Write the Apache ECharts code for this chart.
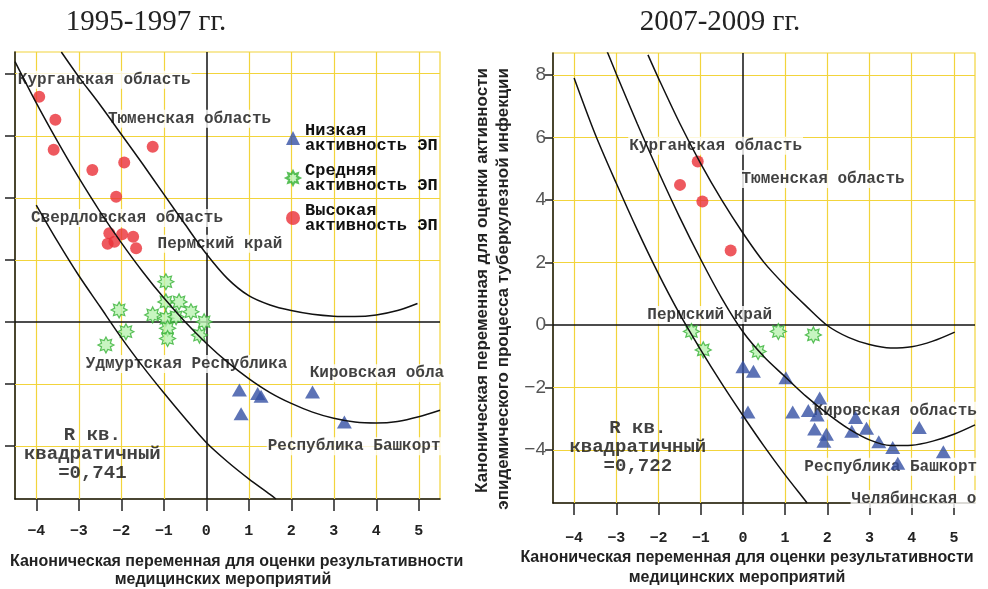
<!DOCTYPE html>
<html><head><meta charset="utf-8">
<script src="https://cdn.jsdelivr.net/npm/echarts@6/dist/echarts.min.js"></script>
<style>html,body{margin:0;padding:0;background:#fff}#c{width:988px;height:589px}</style>
</head><body><div id="c"></div>
<script>
// ---------- data ----------
const xTicks = [-4, -3, -2, -1, 0, 1, 2, 3, 4, 5];
const yTicks = [-4, -2, 0, 2, 4, 6, 8];
const seriesNames = ['Низкая\nактивность ЭП', 'Средняя\nактивность ЭП', 'Высокая\nактивность ЭП'];
const panelTitles = ['1995-1997 гг.', '2007-2009 гг.'];
const xTitle1 = 'Каноническая переменная для оценки результативности';
const xTitle2 = 'медицинских мероприятий';
const yTitle1 = 'Каноническая переменная для оценки активности';
const yTitle2 = 'эпидемического процесса туберкулезной инфекции';
const rsqLeft = 'R кв.\nквадратичный\n=0,741';
const rsqRight = 'R кв.\nквадратичный\n=0,722';

// 1995-1997
const lowLeft = [[0.78,-2.19],[1.21,-2.30],[1.29,-2.39],[2.50,-2.25],[0.82,-2.95],[3.25,-3.22]];
const midLeft = [[-0.95,1.30],[-2.05,0.39],[-1.26,0.23],[-0.95,0.65],[-0.64,0.65],[-0.36,0.33],[-0.95,0.12],[-0.71,0.17],[-0.05,0.01],[-1.89,-0.31],[-0.91,-0.20],[-0.91,-0.53],[-0.16,-0.42],[-2.36,-0.74]];
const highLeft = [[-3.93,7.26],[-3.55,6.52],[-3.59,5.55],[-2.68,4.90],[-1.93,5.14],[-1.26,5.65],[-2.12,4.04],[-2.28,2.86],[-1.98,2.83],[-1.72,2.75],[-2.32,2.52],[-2.16,2.59],[-1.65,2.38]];
const curveUpLeft = [[-3.41,8.7],[-3,7.9],[-2.5,7.0],[-2,6.05],[-1.5,5.1],[-1,4.12],[-0.5,3.15],[0,2.2],[0.5,1.4],[1,0.85],[1.5,0.55],[2,0.37],[2.5,0.25],[3,0.19],[3.5,0.18],[4,0.23],[4.5,0.37],[4.97,0.6]];
const curveMidLeft = [[-4.5,8.39],[-4,7.06],[-3.5,5.82],[-3,4.65],[-2.5,3.56],[-2,2.56],[-1.5,1.63],[-1,0.78],[-0.5,0.01],[0,-0.68],[0.5,-1.29],[1,-1.82],[1.5,-2.27],[2,-2.62],[2.5,-2.9],[3,-3.1],[3.5,-3.22],[4,-3.25],[4.5,-3.2],[5,-3.05],[5.5,-2.84]];
const curveLowLeft = [[-4,3.77],[-3.5,2.6],[-3,1.5],[-2.5,0.5],[-2,-0.5],[-1.5,-1.42],[-1,-2.28],[-0.5,-3.1],[0,-3.88],[0.5,-4.5],[1,-5.05],[1.5,-5.55],[1.64,-5.7]];
const regionsLeft = ['Курганская область','Тюменская область','Свердловская область','Пермский край','Удмуртская Республика','Кировская обла','Республика Башкорт'];
const regionPosLeft = [[-4.47,7.81],[-2.35,6.55],[-4.16,3.35],[-1.18,2.52],[-2.87,-1.35],[2.40,-1.65],[1.41,-4.0]];

// 2007-2009
const lowRight = [[0.0,-1.34],[0.25,-1.48],[1.02,-1.69],[0.12,-2.79],[1.18,-2.79],[1.55,-2.74],[1.82,-2.34],[1.76,-2.88],[1.70,-3.33],[1.98,-3.50],[1.92,-3.72],[2.67,-2.96],[2.58,-3.40],[2.93,-3.31],[3.22,-3.74],[3.55,-3.92],[3.67,-4.43],[4.18,-3.28],[4.75,-4.06]];
const midRight = [[-1.22,-0.21],[-0.94,-0.80],[0.36,-0.85],[0.84,-0.21],[1.67,-0.32]];
const highRight = [[-1.07,5.23],[-1.49,4.48],[-0.96,3.95],[-0.29,2.38]];
const curveUpRight = [[-2.25,8.64],[-2,7.89],[-1.5,6.46],[-1,5.16],[-0.5,3.99],[0,2.94],[0.5,2.0],[1,1.26],[1.5,0.6],[2,-0.02],[2.5,-0.4],[3,-0.63],[3.5,-0.74],[4,-0.7],[4.5,-0.52],[5.02,-0.23]];
const curveMidRight = [[-3.22,8.76],[-3,8.03],[-2.5,6.43],[-2,4.9],[-1.5,3.45],[-1,2.1],[-0.5,0.85],[0,-0.22],[0.5,-1.02],[1,-1.66],[1.5,-2.29],[2,-2.84],[2.5,-3.32],[3,-3.68],[3.5,-3.86],[4,-3.85],[4.5,-3.72],[5,-3.5],[5.5,-3.2]];
const curveLowRight = [[-4,7.9],[-3.5,6.1],[-3,4.53],[-2.5,3.03],[-2,1.63],[-1.5,0.35],[-1,-0.8],[-0.5,-1.88],[0,-2.9],[0.5,-3.88],[1,-4.8],[1.5,-5.66],[1.52,-5.7]];
const regionsRight = ['Курганская область','Тюменская область','Пермский край','Кировская область','Республика Башкорт','Челябинская о'];
const regionPosRight = [[-2.73,5.73],[-0.07,4.67],[-2.30,0.32],[1.64,-2.75],[1.42,-4.54],[2.54,-5.57]];
const rsqPos = [[-2.68,-4.26],[-2.49,-3.9]];

// ---------- styles ----------
const YEL = '#f2d43c';
const monoB = 'Liberation Mono';
function starPath(n, r1, r2) {
  let s = '';
  for (let i = 0; i < 2 * n; i++) {
    const r = i % 2 ? r2 : r1;
    const a = Math.PI * i / n - Math.PI / 2;
    s += (i ? 'L' : 'M') + (r * Math.cos(a)).toFixed(3) + ' ' + (r * Math.sin(a)).toFixed(3);
  }
  return 'path://' + s + 'Z';
}
const STAR = starPath(8, 10, 6);
const grids = [
  { left: 15, top: 52, width: 425, height: 447 },
  { left: 553, top: 53, width: 422, height: 450 }
];
const panels = [
  { low: lowLeft, mid: midLeft, high: highLeft, curves: [curveUpLeft, curveMidLeft, curveLowLeft], regions: regionsLeft, pos: regionPosLeft, rsq: rsqLeft, labelMargin: 25 },
  { low: lowRight, mid: midRight, high: highRight, curves: [curveUpRight, curveMidRight, curveLowRight], regions: regionsRight, pos: regionPosRight, rsq: rsqRight, labelMargin: 28 }
];

const xAxis = [], yAxis = [], series = [];
panels.forEach((p, i) => {
  xAxis.push({
    type: 'value', gridIndex: i, min: -4.5, max: 5.5,
    axisLine: { onZero: false, lineStyle: { color: '#111', width: 1.5 } },
    axisTick: { show: true, customValues: xTicks, length: 12, lineStyle: { color: '#222', width: 1.5 } },
    axisLabel: { customValues: xTicks, formatter: v => String(v).replace('-', '−'), fontFamily: monoB, fontWeight: 'bold', fontSize: 15, color: '#222', margin: p.labelMargin },
    splitLine: { show: false }
  });
  yAxis.push({
    type: 'value', gridIndex: i, min: -5.7, max: 8.7,
    axisLine: { onZero: false, lineStyle: { color: '#111', width: 1.5 } },
    axisTick: { show: true, customValues: yTicks, length: i ? 8 : 10, lineStyle: { color: '#222', width: 1.5 } },
    axisLabel: { show: i === 1, customValues: yTicks, formatter: v => String(v).replace('-', '−'), fontFamily: 'Liberation Sans', fontSize: 19, color: '#555', margin: 7 },
    splitLine: { show: false }
  });
  series.push({
    type: 'line', xAxisIndex: i, yAxisIndex: i, data: [], silent: true, z: 1,
    markLine: {
      silent: true, z: 1, symbol: ['none', 'none'], label: { show: false }, animation: false,
      lineStyle: { color: YEL, type: 'solid', width: 1.2 },
      data: xTicks.filter(v => v !== 0).map(v => ({ xAxis: v })).concat(yTicks.filter(v => v !== 0).map(v => ({ yAxis: v })))
    }
  });
  series.push({
    type: 'line', xAxisIndex: i, yAxisIndex: i, data: [], silent: true, z: 1,
    markLine: {
      silent: true, z: 1.5, symbol: ['none', 'none'], label: { show: false }, animation: false,
      lineStyle: { color: '#111', type: 'solid', width: 1.5 },
      data: [{ xAxis: 0 }, { yAxis: 0 }]
    }
  });
  series.push({
    type: 'scatter', xAxisIndex: i, yAxisIndex: i, silent: true, z: 3, symbolSize: 1,
    itemStyle: { color: 'rgba(0,0,0,0)' },
    data: p.regions.map((t, k) => ({ name: t, value: p.pos[k] })),
    label: { show: true, position: 'right', distance: 0, formatter: '{b}', fontFamily: monoB, fontWeight: 'bold', fontSize: 16, color: '#111', backgroundColor: '#fff', padding: [1, 1] }
  });
  series.push({
    type: 'scatter', xAxisIndex: i, yAxisIndex: i, silent: true, z: 3, symbolSize: 1,
    itemStyle: { color: 'rgba(0,0,0,0)' },
    data: [{ name: p.rsq, value: rsqPos[i] }],
    label: { show: true, position: 'inside', formatter: '{b}', align: 'center', verticalAlign: 'middle', fontFamily: monoB, fontWeight: 'bold', fontSize: 19, lineHeight: 19, color: '#111' }
  });
  p.curves.forEach(c => series.push({
    type: 'line', xAxisIndex: i, yAxisIndex: i, data: c, smooth: 0.3, showSymbol: false, silent: true, z: 5,
    lineStyle: { color: '#111', width: 1.5 }
  }));
  series.push({ name: seriesNames[0], type: 'scatter', xAxisIndex: i, yAxisIndex: i, data: p.low, z: 4,
    symbol: 'triangle', symbolSize: [15, 13], itemStyle: { color: '#3450a4' } });
  series.push({ name: seriesNames[1], type: 'scatter', xAxisIndex: i, yAxisIndex: i, data: p.mid, z: 4,
    symbol: STAR, symbolSize: 16, itemStyle: { color: '#b9f3b0', borderColor: '#35b035', borderWidth: 1.2 } });
  series.push({ name: seriesNames[2], type: 'scatter', xAxisIndex: i, yAxisIndex: i, data: p.high, z: 4,
    symbol: 'circle', symbolSize: 12, itemStyle: { color: '#ea2f37' } });
});

const txt = (x, y, text, font, align, extra) => Object.assign({
  type: 'text', x: x, y: y, silent: true,
  style: { text: text, font: font, fill: '#222', align: align, verticalAlign: 'middle', textAlign: align, textVerticalAlign: 'middle' }
}, extra || {});

const graphic = [
  txt(146, 22, panelTitles[0], '29px "Liberation Serif"', 'center'),
  txt(720, 22, panelTitles[1], '29px "Liberation Serif"', 'center'),
  txt(10, 562, xTitle1, 'bold 16px "Liberation Sans"', 'left'),
  txt(223, 580, xTitle2, 'bold 16px "Liberation Sans"', 'center'),
  txt(747, 558, xTitle1, 'bold 16px "Liberation Sans"', 'center'),
  txt(737, 578, xTitle2, 'bold 16px "Liberation Sans"', 'center'),
  txt(482, 68, yTitle1, 'bold 17px "Liberation Sans"', 'right', { rotation: Math.PI / 2 }),
  txt(503, 68, yTitle2, 'bold 17px "Liberation Sans"', 'right', { rotation: Math.PI / 2 })
];

const chart = echarts.init(document.getElementById('c'), null, { renderer: 'canvas' });
chart.setOption({
  animation: false,
  backgroundColor: '#fff',
  grid: grids.map(g => Object.assign({ show: true, borderColor: YEL, borderWidth: 1.2, backgroundColor: '#fff' }, g)),
  xAxis: xAxis,
  yAxis: yAxis,
  legend: {
    data: seriesNames, orient: 'vertical', left: 280, top: 117, itemGap: 8, itemWidth: 14, itemHeight: 14,
    selectedMode: false,
    textStyle: { fontFamily: monoB, fontWeight: 'bold', fontSize: 17, lineHeight: 15, color: '#111' }
  },
  graphic: graphic,
  series: series
});
</script></body></html>
